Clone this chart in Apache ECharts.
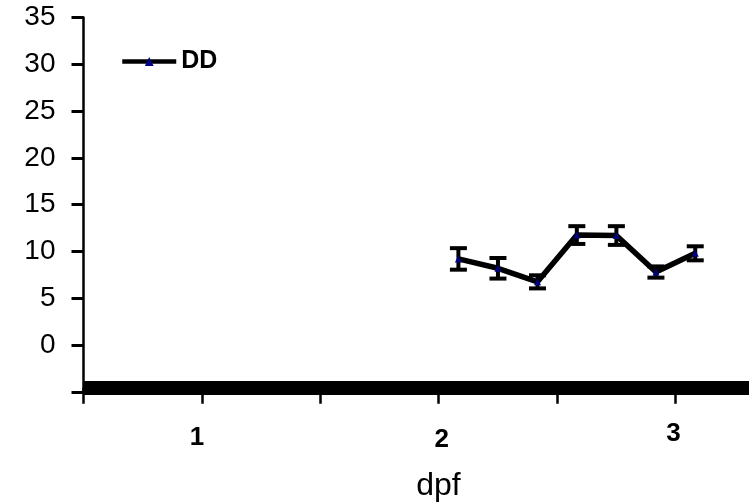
<!DOCTYPE html>
<html><head><meta charset="utf-8">
<script src="https://cdn.jsdelivr.net/npm/echarts@6/dist/echarts.min.js"></script>
<style>html,body{margin:0;padding:0;background:#fff}#c{width:749px;height:504px}</style>
</head><body><div id="c"></div>
<script>
var seriesName = 'DD';
var dpf = [2.083, 2.25, 2.417, 2.583, 2.75, 2.917, 3.083];
var meanValues = [9.2, 8.2, 6.75, 11.75, 11.7, 7.8, 9.8];
var errValues = [1.15, 1.1, 0.7, 0.95, 1.0, 0.6, 0.75];
var xTickValues = [0.5, 1, 1.5, 2, 2.5, 3];
var xLabelValues = [1, 2, 3];
var yTickMin = -5, yTickMax = 35, yStep = 5;
var FONT = '"Liberation Sans", Arial, sans-serif';

var lineData = dpf.map(function (x, i) { return [x, meanValues[i]]; });
var errData = dpf.map(function (x, i) { return [x, meanValues[i] - errValues[i], meanValues[i] + errValues[i]]; });

var chart = echarts.init(document.getElementById('c'));
chart.setOption({
  animation: false,
  textStyle: { fontFamily: FONT },
  grid: { left: 83.5, right: 0, top: 17.5, bottom: 112.2, containLabel: false },
  legend: {
    data: [seriesName], left: 120, top: 49, padding: 0, itemWidth: 54, itemHeight: 11, itemGap: 5,
    lineStyle: { width: 4.5, color: '#000' },
    textStyle: { fontSize: 25, fontWeight: 'bold', color: '#000', fontFamily: FONT }
  },
  xAxis: {
    type: 'value', min: 0.5, max: 3.31, interval: 0.5, offset: -4,
    axisLine: { show: true, onZero: false, lineStyle: { color: '#000', width: 14, cap: 'butt' } },
    axisTick: { show: true, length: 16, customValues: xTickValues, lineStyle: { color: '#000', width: 2.5 } },
    splitLine: { show: false },
    axisLabel: {
      margin: 33, color: '#000', fontSize: 26, fontWeight: 'bold', fontFamily: FONT,
      customValues: xLabelValues,
      formatter: function (v) {
        var k = Math.round(v);
        return (k === 1 ? '{a|' : k === 2 ? '{b|' : '{c|') + k + '}';
      },
      rich: {
        a: { fontSize: 26, fontWeight: 'bold', fontFamily: FONT, color: '#000', padding: [4, 10, 0, 0] },
        b: { fontSize: 26, fontWeight: 'bold', fontFamily: FONT, color: '#000', padding: [6, 0, 0, 6] },
        c: { fontSize: 26, fontWeight: 'bold', fontFamily: FONT, color: '#000', padding: [0, 4, 0, 0] }
      }
    }
  },
  yAxis: {
    type: 'value', min: yTickMin, max: yTickMax, interval: yStep,
    axisLine: { show: true, lineStyle: { color: '#000', width: 2.5 } },
    axisTick: { show: true, length: 12, lineStyle: { color: '#000', width: 3 } },
    splitLine: { show: false },
    axisLabel: {
      margin: 28, color: '#000', fontSize: 28, padding: [6, 0, 0, 0],
      formatter: function (v) { return v < 0 ? '' : String(v); }
    }
  },
  graphic: [{
    type: 'text', x: 438.5, y: 486,
    style: { text: 'dpf', fontSize: 32, fill: '#000', fontFamily: FONT, align: 'center', verticalAlign: 'middle' }
  }],
  series: [{
    type: 'custom', name: 'err', z: 3,
    data: errData,
    renderItem: function (params, api) {
      var x = api.value(0);
      var lo = api.coord([x, api.value(1)]);
      var hi = api.coord([x, api.value(2)]);
      var hw = 8.5;
      var st = { stroke: '#000', lineWidth: 4 };
      return {
        type: 'group', children: [
          { type: 'line', shape: { x1: lo[0], y1: lo[1], x2: hi[0], y2: hi[1] }, style: st },
          { type: 'line', shape: { x1: lo[0] - hw, y1: lo[1], x2: lo[0] + hw, y2: lo[1] }, style: st },
          { type: 'line', shape: { x1: hi[0] - hw, y1: hi[1], x2: hi[0] + hw, y2: hi[1] }, style: st }
        ]
      };
    },
    silent: true
  }, {
    type: 'line', name: seriesName, z: 4,
    data: lineData,
    symbol: 'triangle', symbolSize: 7, showAllSymbol: true,
    lineStyle: { color: '#000', width: 5.5 },
    itemStyle: { color: '#000080', borderColor: '#000080', borderWidth: 0 }
  }]
});
</script></body></html>
